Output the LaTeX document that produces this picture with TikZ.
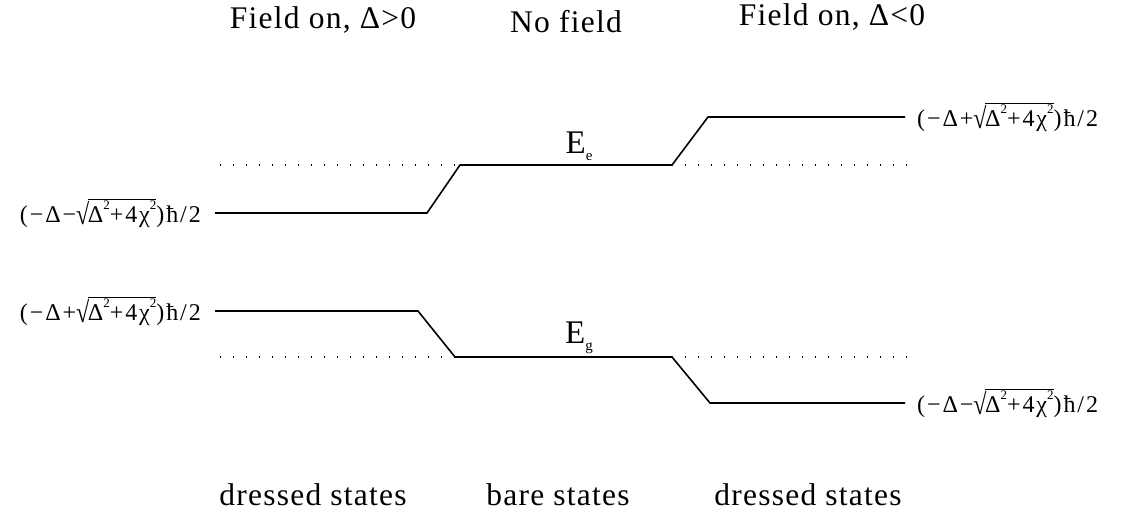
\documentclass[tikz,border=0pt]{standalone}
\usepackage{fontspec}
\usepackage{graphicx}
\setmainfont{Liberation Serif}
\newfontfamily\headfont[LetterSpace=4]{Liberation Serif}
\newfontfamily\labfont[LetterSpace=8]{Liberation Serif}
\begin{document}
\begin{tikzpicture}[x=1pt,y=-1pt,
  level/.style={line width=1.6pt},
  guide/.style={line width=1.4pt,dash pattern=on 1.4pt off 11.6pt},
  head/.style={font=\headfont\fontsize{31.5}{34}\selectfont,inner sep=0pt},
  elabel/.style={font=\labfont\fontsize{24}{26}\selectfont,inner sep=0pt},
  lvl/.style={font=\fontsize{33}{36}\selectfont,inner sep=0pt}]
\useasboundingbox (0,0) rectangle (1138,517);
% text radical: a tall root sign followed by a bar over the radicand
\newcommand{\sq}[1]{\raisebox{-0.08em}{\scalebox{1}[1.22]{√}}\kern-0.06em\ensuremath{\overline{\hbox{\rule{0pt}{0.72em}#1}}}}
\newcommand{\tsup}[1]{\raisebox{0.55em}{\fontsize{13}{13}\selectfont #1}}
% headings
\node[head] (h1) at (323,20) {Field on, Δ>0};
\node[head] (h2) at (566,22) {No field};
\node[head] (h3) at (832,17) {Field on, Δ<0};
\node[head] (b1) at (313,495) {dressed states};
\node[head] (b2) at (558,495) {bare states};
\node[head] (b3) at (808,495) {dressed states};
% upper level
\coordinate (u1) at (215,213);
\coordinate (u2) at (427,213);
\coordinate (u3) at (460,165);
\coordinate (u4) at (672,165);
\coordinate (u5) at (708,117);
\coordinate (u6) at (905,117);
\draw[level] (u1) -- (u2) -- (u3) -- (u4) -- (u5) -- (u6);
% lower level
\coordinate (l1) at (215,311);
\coordinate (l2) at (418,311);
\coordinate (l3) at (455,357);
\coordinate (l4) at (672,357);
\coordinate (l5) at (710,403);
\coordinate (l6) at (905,403);
\draw[level] (l1) -- (l2) -- (l3) -- (l4) -- (l5) -- (l6);
% bare-level guides
\coordinate (gu1) at (220,165);
\coordinate (gu2) at (915,165);
\coordinate (gl1) at (220,357);
\coordinate (gl2) at (915,357);
\draw[guide] (gu1) -- (u3);
\draw[guide] (u4) -- (gu2);
\draw[guide] (gl1) -- (l3);
\draw[guide] (l4) -- (gl2);
% bare energies
\node[lvl,anchor=base] (ee) at (579,153) {E\raisebox{-0.22em}{\fontsize{15}{16}\selectfont e}};
\node[lvl,anchor=base] (eg) at (579,343) {E\raisebox{-0.22em}{\fontsize{15}{16}\selectfont g}};
% dressed energies
\node[elabel,anchor=east] (d1) at (201,213) {(−Δ−\sq{Δ\tsup{2}+4χ\tsup{2}})ħ/2};
\node[elabel,anchor=east] (d2) at (201,311) {(−Δ+\sq{Δ\tsup{2}+4χ\tsup{2}})ħ/2};
\node[elabel,anchor=west] (d3) at (917,117) {(−Δ+\sq{Δ\tsup{2}+4χ\tsup{2}})ħ/2};
\node[elabel,anchor=west] (d4) at (917,403) {(−Δ−\sq{Δ\tsup{2}+4χ\tsup{2}})ħ/2};
\end{tikzpicture}
\end{document}
